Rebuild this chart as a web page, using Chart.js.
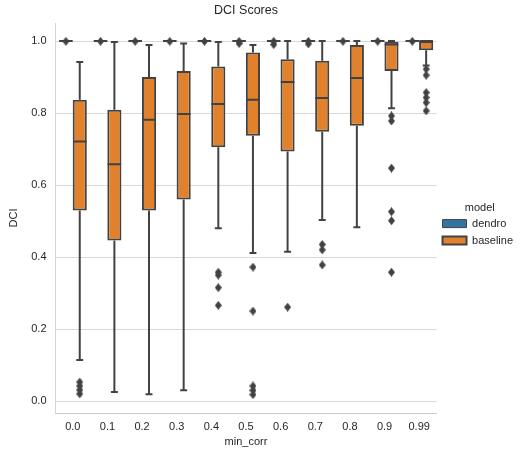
<!DOCTYPE html>
<html>
<head>
<meta charset="utf-8">
<script src="https://cdn.jsdelivr.net/npm/chart.js@4.4.0/dist/chart.umd.min.js"></script>
<style>
  html, body { margin: 0; padding: 0; background: #fff; }
  #wrap { width: 530px; height: 455px; }
</style>
</head>
<body>
<div id="wrap"><canvas id="dciChart" width="530" height="455"></canvas></div>
<script>
const categories = ['0.0', '0.1', '0.2', '0.3', '0.4', '0.5', '0.6', '0.7', '0.8', '0.9', '0.99'];
const yTicks = [0, 0.2, 0.4, 0.6, 0.8, 1.0];

// baseline boxes
const baselineQ1 = [0.529, 0.446, 0.529, 0.560, 0.705, 0.737, 0.693, 0.748, 0.765, 0.917, 0.974];
const baselineMedian = [0.721, 0.658, 0.781, 0.797, 0.825, 0.837, 0.886, 0.842, 0.897, 0.990, 1.0];
const baselineQ3 = [0.837, 0.809, 0.900, 0.917, 0.929, 0.968, 0.949, 0.945, 0.989, 0.998, 1.0];
const baselineLow = [0.114, 0.025, 0.019, 0.030, 0.480, 0.411, 0.415, 0.503, 0.483, 0.813, 0.932];
const baselineHigh = [0.942, 0.997, 0.989, 0.993, 0.997, 0.989, 1.0, 1.0, 1.0, 1.0, 1.0];
const baselineOutliers = [
    [0.053, 0.042, 0.031, 0.020],
    [],
    [],
    [],
    [0.358, 0.350, 0.315, 0.266],
    [0.372, 0.250, 0.042, 0.030, 0.018],
    [0.261],
    [0.435, 0.420, 0.378],
    [],
    [0.792, 0.778, 0.647, 0.526, 0.501, 0.358],
    [0.922, 0.905, 0.857, 0.843, 0.829, 0.806]
];

// dendro scores sit at 1.0 everywhere
const dendroValue = [1, 1, 1, 1, 1, 1, 1, 1, 1, 1, 1];
const dendroOutliers = [
    [0.999], [0.999], [0.999], [0.999], [0.999],
    [0.999, 0.993], [0.999, 0.99], [0.999, 0.992],
    [0.999], [0.999], [0.999]
];

const BLUE = '#3274a1';
const ORANGE = '#e1812c';
const EDGE = '#424242';
const TEXT = '#262626';
const FONT = '"Liberation Sans", Arial, sans-serif';

// seaborn-style dodge: two hues share 0.8 of each slot
const HUE_OFFSET = 0.2;
const HALF_BOX = 0.196;
const HALF_CAP = 0.1;

function segment(points, x0, x1, y0, y1) {
    points.push({ x: x0, y: y0 }, { x: x1, y: y1 }, { x: x1, y: null });
}

function buildLines() {
    const pts = [];
    categories.forEach((c, i) => {
        const xb = i + HUE_OFFSET;
        const xd = i - HUE_OFFSET;
        // baseline whiskers + caps + median
        segment(pts, xb, xb, baselineQ3[i], baselineHigh[i]);
        segment(pts, xb, xb, baselineQ1[i], baselineLow[i]);
        segment(pts, xb - HALF_CAP, xb + HALF_CAP, baselineHigh[i], baselineHigh[i]);
        segment(pts, xb - HALF_CAP, xb + HALF_CAP, baselineLow[i], baselineLow[i]);
        segment(pts, xb - HALF_BOX, xb + HALF_BOX, baselineMedian[i], baselineMedian[i]);
        // dendro collapsed box
        segment(pts, xd - HALF_BOX, xd + HALF_BOX, dendroValue[i], dendroValue[i]);
    });
    return pts;
}

function buildOutliers() {
    const pts = [];
    categories.forEach((c, i) => {
        dendroOutliers[i].forEach(v => pts.push({ x: i - HUE_OFFSET, y: v }));
        baselineOutliers[i].forEach(v => pts.push({ x: i + HUE_OFFSET, y: v }));
    });
    return pts;
}

function makeDiamond(w, h, color) {
    const c = document.createElement('canvas');
    c.width = w;
    c.height = h;
    const g = c.getContext('2d');
    g.fillStyle = color;
    g.beginPath();
    g.moveTo(w / 2, 0);
    g.lineTo(w, h / 2);
    g.lineTo(w / 2, h);
    g.lineTo(0, h / 2);
    g.closePath();
    g.fill();
    return c;
}

const diamond = makeDiamond(7, 9, EDGE);
const ctx = document.getElementById('dciChart').getContext('2d');

new Chart(ctx, {
    type: 'bar',
    data: {
        labels: categories,
        datasets: [
            {
                label: 'dendro',
                xAxisID: 'xPos',
                data: dendroValue.map((v, i) => ({ x: i - HUE_OFFSET, y: [v, v] })),
                backgroundColor: BLUE,
                borderColor: EDGE,
                borderWidth: 1,
                borderSkipped: false,
                grouped: false,
                categoryPercentage: 1,
                barPercentage: 0.98,
                order: 2
            },
            {
                label: 'baseline',
                xAxisID: 'xPos',
                data: baselineQ1.map((q, i) => ({ x: i + HUE_OFFSET, y: [q, baselineQ3[i]] })),
                backgroundColor: ORANGE,
                borderColor: EDGE,
                borderWidth: 2,
                borderSkipped: false,
                grouped: false,
                categoryPercentage: 1,
                barPercentage: 1.02,
                order: 2
            },
            {
                type: 'line',
                label: 'lines',
                xAxisID: 'xPos',
                data: buildLines(),
                borderColor: EDGE,
                borderWidth: 2,
                pointRadius: 0,
                spanGaps: false,
                tension: 0,
                order: 1
            },
            {
                type: 'scatter',
                label: 'outliers',
                xAxisID: 'xPos',
                data: buildOutliers(),
                pointStyle: diamond,
                pointRadius: 4,
                backgroundColor: EDGE,
                order: 0
            }
        ]
    },
    options: {
        responsive: false,
        animation: false,
        layout: { padding: { left: 0, right: 7, top: 0, bottom: 0 } },
        plugins: {
            title: {
                display: true,
                text: 'DCI Scores',
                fullSize: false,
                color: TEXT,
                font: { family: FONT, size: 12.5, weight: 'normal' },
                padding: { top: 3, bottom: 5 }
            },
            legend: {
                position: 'right',
                title: {
                    display: true,
                    text: 'model',
                    color: TEXT,
                    font: { family: FONT, size: 11 },
                    padding: { top: 0, bottom: -4 }
                },
                labels: {
                    boxWidth: 24,
                    boxHeight: 8,
                    padding: 6,
                    color: TEXT,
                    font: { family: FONT, size: 11 },
                    filter: item => item.datasetIndex < 2
                }
            },
            tooltip: { enabled: false }
        },
        scales: {
            x: {
                type: 'category',
                offset: true,
                grid: { display: false, drawTicks: false },
                border: { display: true, color: '#cccccc' },
                ticks: { padding: 7, color: TEXT, font: { family: FONT, size: 11 } },
                title: {
                    display: true,
                    text: 'min_corr',
                    color: TEXT,
                    font: { family: FONT, size: 11 },
                    padding: { top: 0, bottom: 6 }
                },
                afterFit: s => { s.height = 42; }
            },
            xPos: {
                type: 'linear',
                display: false,
                offset: false,
                grid: { offset: false },
                min: -0.5,
                max: 10.5
            },
            y: {
                min: -0.033,
                max: 1.05,
                afterBuildTicks: s => { s.ticks = yTicks.map(v => ({ value: v })); },
                afterFit: s => { s.width = 55.5; },
                grid: { color: '#d9d9d9', drawTicks: false },
                border: { display: true, color: '#d5d5d5' },
                ticks: {
                    padding: 9,
                    color: TEXT,
                    font: { family: FONT, size: 11 },
                    callback: v => v.toFixed(1)
                },
                title: {
                    display: true,
                    text: 'DCI',
                    color: TEXT,
                    font: { family: FONT, size: 11 },
                    padding: { top: 7, bottom: 0 }
                }
            }
        }
    }
});
</script>
</body>
</html>
